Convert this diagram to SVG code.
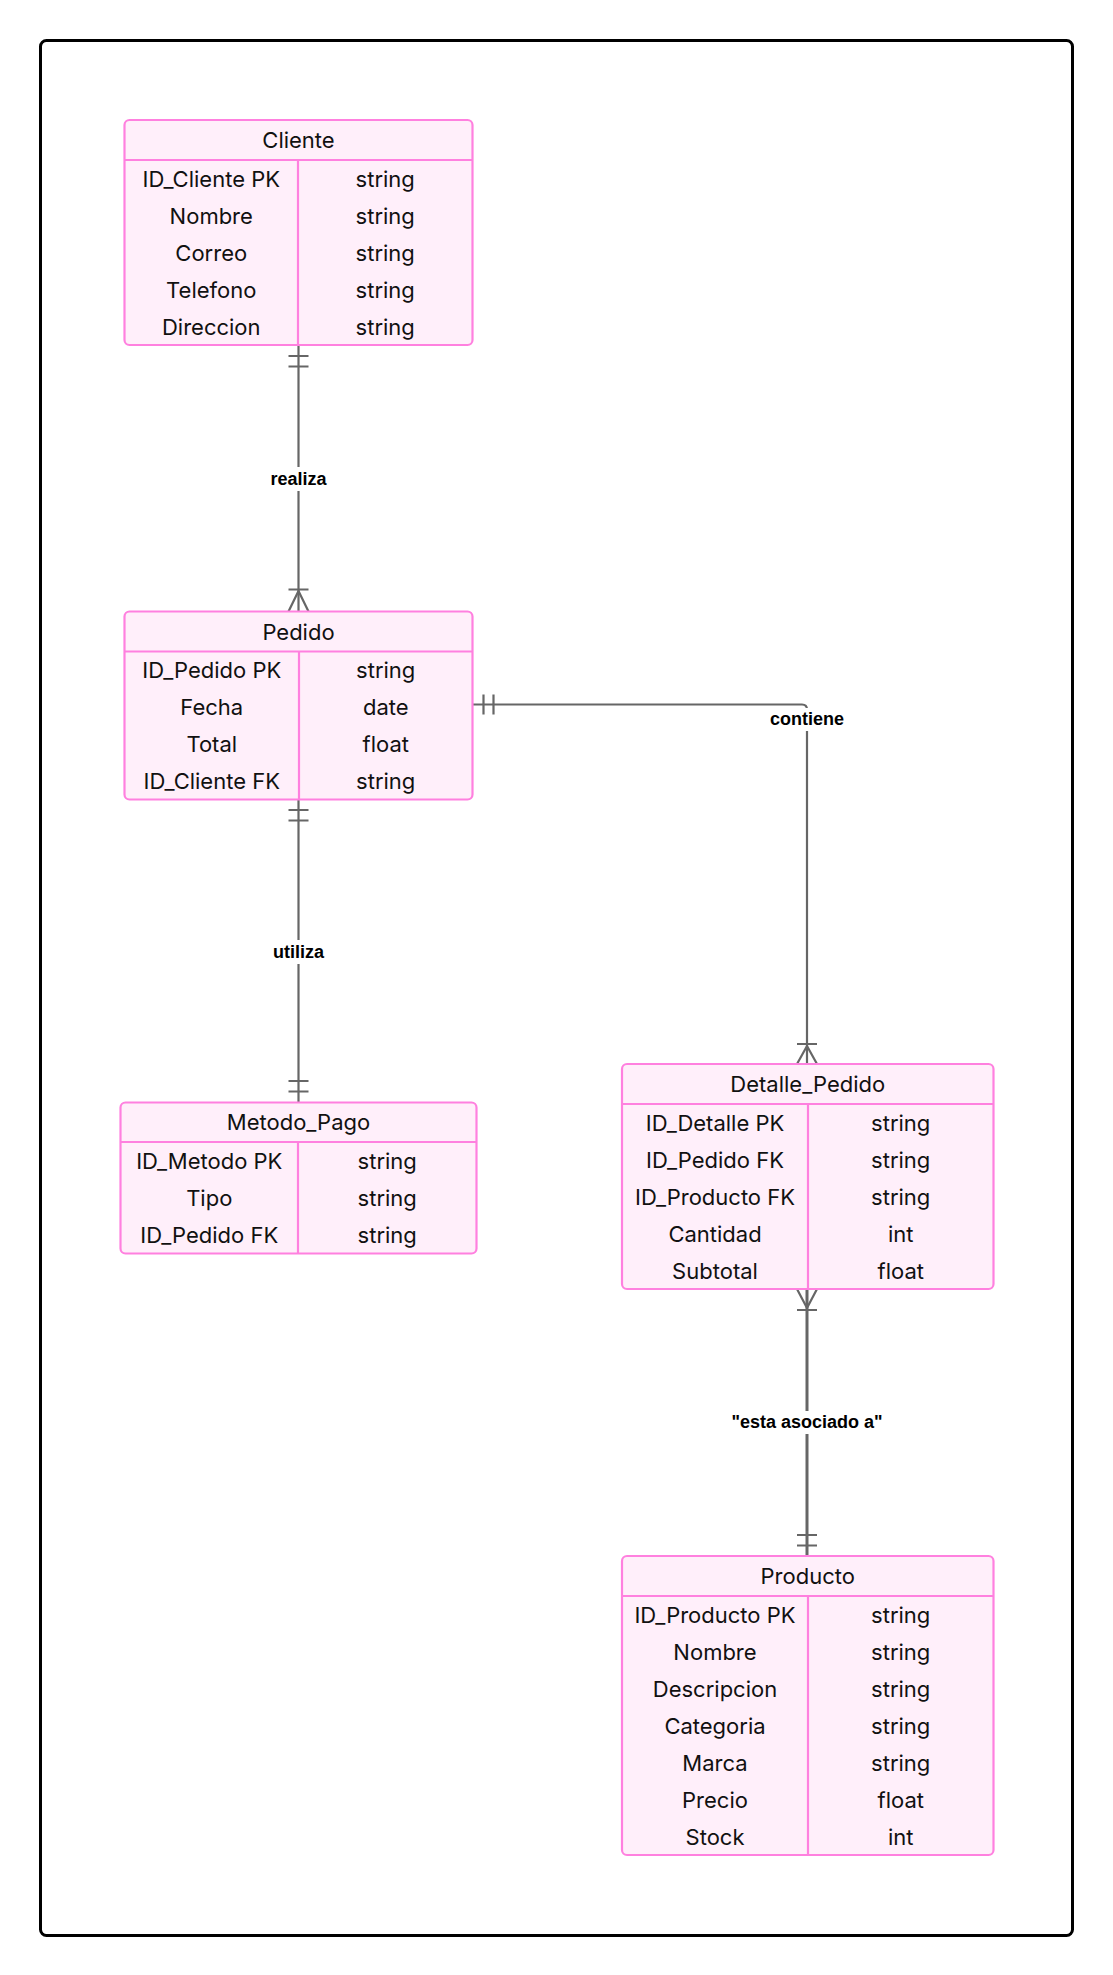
<svg xmlns="http://www.w3.org/2000/svg" width="1113" height="1975" viewBox="0 0 1113 1975">
<style>
.box{fill:#FFEFFA;stroke:#FF80DF;stroke-width:2.2}
.sep{stroke:#FF80DF;stroke-width:2.2;fill:none}
.t{font-family:Inter,"Noto Sans",sans-serif;font-size:22px;fill:#111;text-anchor:middle;dominant-baseline:central}
.ln{stroke:#666;stroke-width:2.2;fill:none}
.lb{font-family:"Liberation Sans",Arial,sans-serif;font-size:18px;font-weight:bold;fill:#000;text-anchor:middle;dominant-baseline:central}
.lbg{fill:#fff}
</style>
<rect x="40.5" y="40.5" width="1032" height="1895" rx="6" fill="#fff" stroke="#000" stroke-width="3"/>

<g id="connectors">
  <path class="ln" d="M298.5,345 V611.5"/>
  <path class="ln" d="M288.5,356 H308.5 M288.5,366.5 H308.5"/>
  <path class="ln" d="M288.5,589.5 H308.5 M298.5,591 L288.5,611.5 M298.5,591 L308.5,611.5"/>
  <rect class="lbg" x="268" y="467" width="61" height="24"/>
  <text class="lb" x="298.5" y="479">realiza</text>

  <path class="ln" d="M298.5,799.5 V1102.5"/>
  <path class="ln" d="M288.5,810 H308.5 M288.5,820.5 H308.5 M288.5,1081 H308.5 M288.5,1091.5 H308.5"/>
  <rect class="lbg" x="271" y="940" width="55" height="24"/>
  <text class="lb" x="298.5" y="952">utiliza</text>

  <path class="ln" d="M472.5,704.5 H802 Q807,704.5 807,709.5 V1064"/>
  <path class="ln" d="M483.5,694.5 V714.5 M493.5,694.5 V714.5"/>
  <path class="ln" d="M797,1044 H817 M807,1046 L797,1064 M807,1046 L817,1064"/>
  <rect class="lbg" x="768" y="708" width="78" height="23"/>
  <text class="lb" x="807" y="719">contiene</text>

  <path class="ln" d="M807,1289 V1556" style="stroke-width:3"/>
  <path class="ln" d="M797,1289 L807,1308 M817,1289 L807,1308 M797,1310 H817"/>
  <path class="ln" d="M797,1535 H817 M797,1545.5 H817"/>
  <rect class="lbg" x="729" y="1411" width="156" height="23"/>
  <text class="lb" x="807" y="1422">"esta asociado a"</text>
</g>

<g id="Cliente">
  <rect class="box" x="124.5" y="120" width="348" height="225" rx="5"/>
  <path class="sep" d="M124.5,160 H472.5 M298,160 V345"/>
  <text class="t" x="298.5" y="140">Cliente</text>
  <text class="t" x="211.25" y="178.5">ID_Cliente PK</text><text class="t" x="385.25" y="178.5">string</text>
  <text class="t" x="211.25" y="215.5">Nombre</text><text class="t" x="385.25" y="215.5">string</text>
  <text class="t" x="211.25" y="252.5">Correo</text><text class="t" x="385.25" y="252.5">string</text>
  <text class="t" x="211.25" y="289.5">Telefono</text><text class="t" x="385.25" y="289.5">string</text>
  <text class="t" x="211.25" y="326.5">Direccion</text><text class="t" x="385.25" y="326.5">string</text>
</g>

<g id="Pedido">
  <rect class="box" x="124.5" y="611.5" width="348" height="188" rx="5"/>
  <path class="sep" d="M124.5,651.5 H472.5 M299,651.5 V799.5"/>
  <text class="t" x="298.5" y="631.5">Pedido</text>
  <text class="t" x="211.75" y="670">ID_Pedido PK</text><text class="t" x="385.75" y="670">string</text>
  <text class="t" x="211.75" y="707">Fecha</text><text class="t" x="385.75" y="707">date</text>
  <text class="t" x="211.75" y="744">Total</text><text class="t" x="385.75" y="744">float</text>
  <text class="t" x="211.75" y="781">ID_Cliente FK</text><text class="t" x="385.75" y="781">string</text>
</g>

<g id="Metodo_Pago">
  <rect class="box" x="120.5" y="1102.5" width="356" height="151" rx="5"/>
  <path class="sep" d="M120.5,1142 H476.5 M298,1142 V1253.5"/>
  <text class="t" x="298.5" y="1122.3">Metodo_Pago</text>
  <text class="t" x="209.25" y="1160.5">ID_Metodo PK</text><text class="t" x="387.25" y="1160.5">string</text>
  <text class="t" x="209.25" y="1197.5">Tipo</text><text class="t" x="387.25" y="1197.5">string</text>
  <text class="t" x="209.25" y="1234.5">ID_Pedido FK</text><text class="t" x="387.25" y="1234.5">string</text>
</g>

<g id="Detalle_Pedido">
  <rect class="box" x="622" y="1064" width="371.5" height="225" rx="5"/>
  <path class="sep" d="M622,1104 H993.5 M808,1104 V1289"/>
  <text class="t" x="807.75" y="1084">Detalle_Pedido</text>
  <text class="t" x="715" y="1122.5">ID_Detalle PK</text><text class="t" x="900.75" y="1122.5">string</text>
  <text class="t" x="715" y="1159.5">ID_Pedido FK</text><text class="t" x="900.75" y="1159.5">string</text>
  <text class="t" x="715" y="1196.5">ID_Producto FK</text><text class="t" x="900.75" y="1196.5">string</text>
  <text class="t" x="715" y="1233.5">Cantidad</text><text class="t" x="900.75" y="1233.5">int</text>
  <text class="t" x="715" y="1270.5">Subtotal</text><text class="t" x="900.75" y="1270.5">float</text>
</g>

<g id="Producto">
  <rect class="box" x="622" y="1556" width="371.5" height="299" rx="5"/>
  <path class="sep" d="M622,1596 H993.5 M808,1596 V1855"/>
  <text class="t" x="807.75" y="1576">Producto</text>
  <text class="t" x="715" y="1614.5">ID_Producto PK</text><text class="t" x="900.75" y="1614.5">string</text>
  <text class="t" x="715" y="1651.5">Nombre</text><text class="t" x="900.75" y="1651.5">string</text>
  <text class="t" x="715" y="1688.5">Descripcion</text><text class="t" x="900.75" y="1688.5">string</text>
  <text class="t" x="715" y="1725.5">Categoria</text><text class="t" x="900.75" y="1725.5">string</text>
  <text class="t" x="715" y="1762.5">Marca</text><text class="t" x="900.75" y="1762.5">string</text>
  <text class="t" x="715" y="1799.5">Precio</text><text class="t" x="900.75" y="1799.5">float</text>
  <text class="t" x="715" y="1836.5">Stock</text><text class="t" x="900.75" y="1836.5">int</text>
</g>
</svg>
